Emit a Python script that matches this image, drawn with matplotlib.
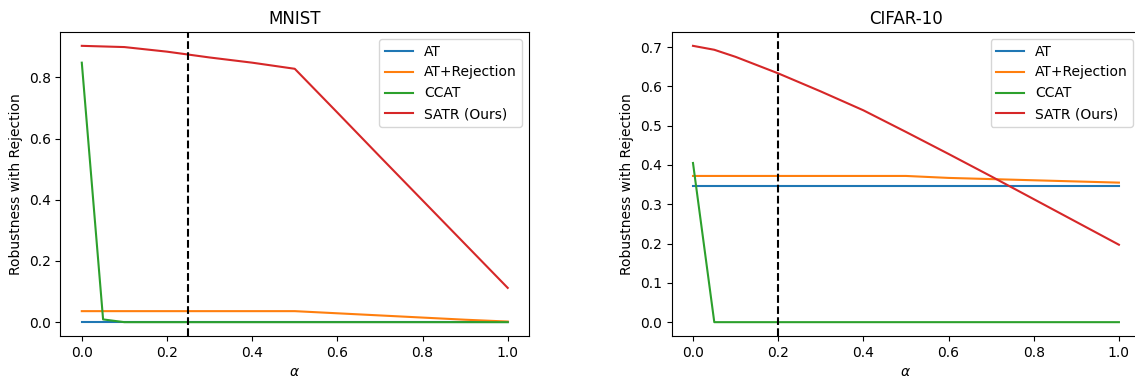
import matplotlib
matplotlib.use("Agg")
import matplotlib.pyplot as plt

# alpha grid
alpha = [0.0, 0.05, 0.1, 0.2, 0.3, 0.4, 0.5, 0.6, 0.7, 0.8, 0.9, 1.0]

# MNIST
mnist_at = [0.0, 0.0, 0.0, 0.0, 0.0, 0.0, 0.0, 0.0, 0.0, 0.0, 0.0, 0.0]
mnist_at_rej = [0.036, 0.036, 0.036, 0.036, 0.036, 0.036, 0.036, 0.029, 0.022, 0.015, 0.008, 0.002]
mnist_ccat = [0.848, 0.009, 0.0, 0.0, 0.0, 0.0, 0.0, 0.0, 0.0, 0.0, 0.0, 0.0]
mnist_satr = [0.903, 0.901, 0.899, 0.884, 0.865, 0.848, 0.828, 0.685, 0.541, 0.398, 0.255, 0.112]

# CIFAR-10
cifar_at = [0.346] * 12
cifar_at_rej = [0.372, 0.372, 0.372, 0.372, 0.372, 0.372, 0.372, 0.367, 0.364, 0.361, 0.358, 0.355]
cifar_ccat = [0.405, 0.0, 0.0, 0.0, 0.0, 0.0, 0.0, 0.0, 0.0, 0.0, 0.0, 0.0]
cifar_satr = [0.703, 0.693, 0.675, 0.633, 0.587, 0.539, 0.484, 0.428, 0.371, 0.313, 0.255, 0.197]

labels = ['AT', 'AT+Rejection', 'CCAT', 'SATR (Ours)']
colors = ['#1f77b4', '#ff7f0e', '#2ca02c', '#d62728']

fig = plt.figure(figsize=(11.35, 3.79), dpi=100)
ax1 = fig.add_axes([0.0533, 0.1135, 0.4128, 0.802])
ax2 = fig.add_axes([0.5918, 0.1135, 0.4128, 0.802])

panels = [
    (ax1, 'MNIST', [mnist_at, mnist_at_rej, mnist_ccat, mnist_satr], 0.25),
    (ax2, 'CIFAR-10', [cifar_at, cifar_at_rej, cifar_ccat, cifar_satr], 0.2),
]

for ax, title, series, thr in panels:
    for ys, lab, c in zip(series, labels, colors):
        ax.plot(alpha, ys, color=c, label=lab)
    ax.axvline(thr, color='black', linestyle='--')
    ax.set_title(title)
    ax.set_xlabel(r'$\alpha$')
    ax.set_ylabel('Robustness with Rejection')
    ax.legend(loc='upper right')

fig.savefig('out.png', dpi=100)
